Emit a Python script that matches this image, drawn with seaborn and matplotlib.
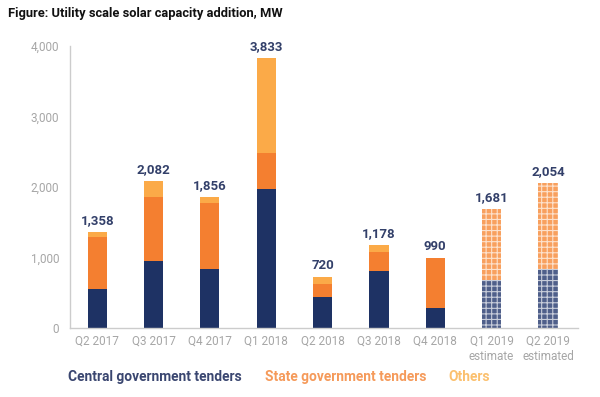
import numpy as np
import pandas as pd
import matplotlib
matplotlib.use("Agg")
import matplotlib.pyplot as plt
import seaborn as sns

# Chart data (MW)
quarters = ["Q2 2017", "Q3 2017", "Q4 2017", "Q1 2018", "Q2 2018",
            "Q3 2018", "Q4 2018", "Q1 2019\nestimate", "Q2 2019\nestimated"]
central = [550, 950, 832, 1967, 435, 808, 284, 680, 837]
state = [745, 908, 945, 511, 185, 270, 706, 1001, 1217]
others = [63, 224, 79, 1355, 100, 100, 0, 0, 0]
totals = [1358, 2082, 1856, 3833, 720, 1178, 990, 1681, 2054]
estimated = [False] * 7 + [True, True]

navy = "#1e3264"
orange = "#f47f30"
light = "#fbaa48"
grey = "#a6a6a6"

df = pd.DataFrame({"quarter": quarters, "central": central,
                   "state": state, "others": others})
df["cs"] = df["central"] + df["state"]
df["all"] = df["cs"] + df["others"]

sns.set_style("white")
plt.rcParams["font.family"] = ["Roboto", "DejaVu Sans"]
plt.rcParams["hatch.linewidth"] = 0.8

fig = plt.figure(figsize=(6, 3.97), dpi=100)
ax = fig.add_axes([0.117, 0.174, 0.846, 0.71])

# overlapping bars give the stacked look
sns.barplot(data=df, x="quarter", y="all", color=light, width=0.34,
            saturation=1, ax=ax)
sns.barplot(data=df, x="quarter", y="cs", color=orange, width=0.34,
            saturation=1, ax=ax)
sns.barplot(data=df, x="quarter", y="central", color=navy, width=0.34,
            saturation=1, ax=ax)

# estimated quarters: hatched pattern
for container, fc in zip(ax.containers, [light, "#f8a05e", "#4f5f8a"]):
    for patch, est in zip(container.patches, estimated):
        patch.set_linewidth(0)
        if est:
            patch.set_facecolor(fc)
            patch.set_edgecolor("#ffffffb0")
            patch.set_hatch("+++")

for i, t in enumerate(totals):
    ax.text(i, t + 70, f"{t:,}", ha="center", va="bottom", fontsize=9.5,
            fontweight="bold", color="#33406a")

ax.set_ylim(0, 4000)
ax.set_xlim(-0.48, 8.53)
ax.set_yticks([0, 1000, 2000, 3000, 4000])
ax.set_yticklabels(["0", "1,000", "2,000", "3,000", "4,000"])
ax.set_xlabel("")
ax.set_ylabel("")
ax.tick_params(axis="both", length=0, labelsize=8.5, labelcolor=grey)
ax.tick_params(axis="y", pad=8)
ax.tick_params(axis="x", pad=5)
for s in ["top", "right"]:
    ax.spines[s].set_visible(False)
for s in ["left", "bottom"]:
    ax.spines[s].set_color("#cccccc")
    ax.spines[s].set_linewidth(1)

fig.text(0.013, 0.965, "Figure: Utility scale solar capacity addition, MW",
         fontsize=9.3, fontweight="bold", color="#111111", va="center")

fig.text(0.113, 0.05, "Central government tenders", fontsize=9.9,
         fontweight="bold", color="#3a4670", va="center")
fig.text(0.442, 0.05, "State government tenders", fontsize=9.9,
         fontweight="bold", color="#f59a5a", va="center")
fig.text(0.748, 0.05, "Others", fontsize=9.9,
         fontweight="bold", color="#fbc06e", va="center")

fig.savefig("out.png", dpi=100)
